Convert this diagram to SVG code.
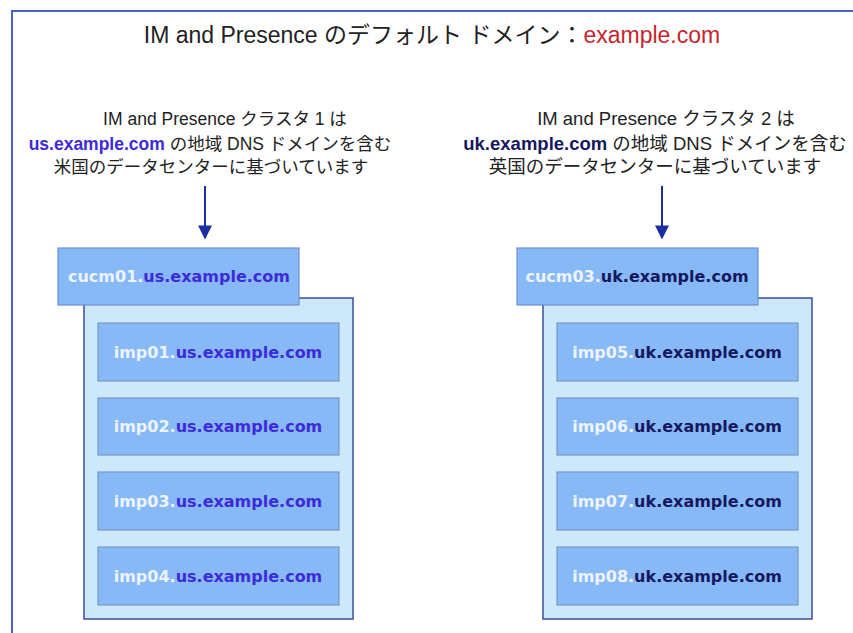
<svg xmlns="http://www.w3.org/2000/svg" width="853" height="633" viewBox="0 0 853 633">
<defs>
<style>
.txt{font-family:"Liberation Sans","Noto Sans CJK JP",sans-serif;fill:#222}
.box{font-family:"DejaVu Sans","Liberation Sans",sans-serif;font-weight:bold;font-size:16px}
.hdr{fill:#86b9f6;stroke:#6f8fcf;stroke-width:1.2}
.cont{fill:#cde8fb;stroke:#3a4c9e;stroke-width:1.5}
.imp{fill:#86b9f6;stroke:#7a96c8;stroke-width:1.2}
.w{fill:#eef4ff}
.us{fill:#3d2ad8}
.uk{fill:#16185e}
.arr{stroke:#1c2fa0;stroke-width:2;fill:none}
</style>
<marker id="ah" viewBox="0 0 10 10" refX="9" refY="5" markerWidth="9" markerHeight="7" orient="auto" markerUnits="strokeWidth">
<path d="M0,0 L10,5 L0,10 z" fill="#1c2fa0"/>
</marker>
</defs>
<rect width="853" height="633" fill="#ffffff"/>
<path d="M12,633 L12,11 L853,11" fill="none" stroke="#4a63cc" stroke-width="2"/>
<text class="txt" x="432" y="43" text-anchor="middle" font-size="23">IM and Presence のデフォルト ドメイン：<tspan fill="#c4262e">example.com</tspan></text>

<g id="desc1">
<text class="txt" x="225" y="125" text-anchor="middle" font-size="17.5">IM and Presence クラスタ 1 は</text>
<text class="txt" x="210" y="150" text-anchor="middle" font-size="17.5"><tspan fill="#3d2ad8" font-weight="bold">us.example.com</tspan> の地域 DNS ドメインを含む</text>
<text class="txt" x="211" y="173" text-anchor="middle" font-size="17.5">米国のデータセンターに基づいています</text>
</g>
<g id="desc2">
<text class="txt" x="666" y="125" text-anchor="middle" font-size="18.5">IM and Presence クラスタ 2 は</text>
<text class="txt" x="655" y="150" text-anchor="middle" font-size="18.5"><tspan fill="#16185e" font-weight="bold">uk.example.com</tspan> の地域 DNS ドメインを含む</text>
<text class="txt" x="655" y="173" text-anchor="middle" font-size="18.5">英国のデータセンターに基づいています</text>
</g>

<g id="connectors">
<line class="arr" x1="205" y1="186" x2="205" y2="238" marker-end="url(#ah)"/>
<line class="arr" x1="662" y1="186" x2="662" y2="238" marker-end="url(#ah)"/>
</g>

<g id="cluster1">
<rect class="cont" x="84" y="298" width="269" height="321"/>
<g id="cucm01"><rect class="hdr" x="58" y="248" width="241" height="57"/>
<text class="box" x="179" y="282" text-anchor="middle"><tspan class="w">cucm01.</tspan><tspan class="us">us.example.com</tspan></text></g>
<g id="imp01"><rect class="imp" x="98" y="323" width="241" height="58"/>
<text class="box" x="218" y="358" text-anchor="middle"><tspan class="w">imp01.</tspan><tspan class="us">us.example.com</tspan></text></g>
<g id="imp02"><rect class="imp" x="98" y="398" width="241" height="57"/>
<text class="box" x="218" y="432" text-anchor="middle"><tspan class="w">imp02.</tspan><tspan class="us">us.example.com</tspan></text></g>
<g id="imp03"><rect class="imp" x="98" y="472" width="241" height="58"/>
<text class="box" x="218" y="507" text-anchor="middle"><tspan class="w">imp03.</tspan><tspan class="us">us.example.com</tspan></text></g>
<g id="imp04"><rect class="imp" x="98" y="547" width="241" height="58"/>
<text class="box" x="218" y="582" text-anchor="middle"><tspan class="w">imp04.</tspan><tspan class="us">us.example.com</tspan></text></g>
</g>

<g id="cluster2">
<rect class="cont" x="543" y="298" width="269" height="321"/>
<g id="cucm03"><rect class="hdr" x="517" y="248" width="241" height="57"/>
<text class="box" x="637" y="282" text-anchor="middle"><tspan class="w">cucm03.</tspan><tspan class="uk">uk.example.com</tspan></text></g>
<g id="imp05"><rect class="imp" x="557" y="323" width="241" height="58"/>
<text class="box" x="677" y="358" text-anchor="middle"><tspan class="w">imp05.</tspan><tspan class="uk">uk.example.com</tspan></text></g>
<g id="imp06"><rect class="imp" x="557" y="398" width="241" height="57"/>
<text class="box" x="677" y="432" text-anchor="middle"><tspan class="w">imp06.</tspan><tspan class="uk">uk.example.com</tspan></text></g>
<g id="imp07"><rect class="imp" x="557" y="472" width="241" height="58"/>
<text class="box" x="677" y="507" text-anchor="middle"><tspan class="w">imp07.</tspan><tspan class="uk">uk.example.com</tspan></text></g>
<g id="imp08"><rect class="imp" x="557" y="547" width="241" height="58"/>
<text class="box" x="677" y="582" text-anchor="middle"><tspan class="w">imp08.</tspan><tspan class="uk">uk.example.com</tspan></text></g>
</g>
</svg>
